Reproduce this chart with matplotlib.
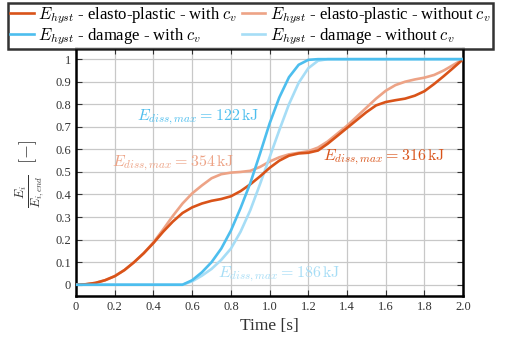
import numpy as np
import matplotlib
matplotlib.use("Agg")
import matplotlib.pyplot as plt

plt.rcParams['font.family'] = ['Liberation Serif', 'DejaVu Serif']
plt.rcParams['mathtext.fontset'] = 'cm'

# normierte Energieverläufe über der Zeit
t = np.round(np.arange(0, 2.0001, 0.05), 2)

ep_with_cv = [0, 0.002, 0.008, 0.02, 0.038, 0.065, 0.1, 0.14, 0.185, 0.235,
              0.28, 0.318, 0.343, 0.36, 0.372, 0.38, 0.392, 0.415, 0.445, 0.48,
              0.518, 0.55, 0.572, 0.582, 0.585, 0.595, 0.625, 0.66, 0.695, 0.73,
              0.765, 0.795, 0.81, 0.818, 0.825, 0.838, 0.858, 0.89, 0.925, 0.962,
              1.0]
ep_without_cv = [0, 0.002, 0.008, 0.02, 0.038, 0.065, 0.1, 0.14, 0.188, 0.245,
                 0.305, 0.36, 0.405, 0.44, 0.472, 0.49, 0.497, 0.5, 0.505, 0.522,
                 0.546, 0.565, 0.578, 0.585, 0.592, 0.608, 0.635, 0.67, 0.705, 0.745,
                 0.785, 0.825, 0.86, 0.885, 0.9, 0.91, 0.918, 0.93, 0.95, 0.975,
                 1.0]
dmg_with_cv = [0, 0, 0, 0, 0, 0, 0, 0, 0, 0,
               0, 0, 0.02, 0.055, 0.1, 0.16, 0.24, 0.34, 0.45, 0.58,
               0.715, 0.83, 0.92, 0.975, 0.997, 1.0, 1.0, 1.0, 1.0, 1.0,
               1.0, 1.0, 1.0, 1.0, 1.0, 1.0, 1.0, 1.0, 1.0, 1.0,
               1.0]
dmg_without_cv = [0, 0, 0, 0, 0, 0, 0, 0, 0, 0,
                  0, 0, 0.015, 0.04, 0.07, 0.11, 0.16, 0.235, 0.33, 0.445,
                  0.565, 0.685, 0.8, 0.895, 0.96, 0.993, 1.0, 1.0, 1.0, 1.0,
                  1.0, 1.0, 1.0, 1.0, 1.0, 1.0, 1.0, 1.0, 1.0, 1.0,
                  1.0]

c_ep = '#D95319'
c_ep_light = '#EDA386'
c_dmg = '#4DBEEE'
c_dmg_light = '#A6DDF6'
grau = '#333333'

fig = plt.figure(figsize=(5.21, 3.42), dpi=100)
ax = fig.add_axes([0.146, 0.1345, 0.743, 0.7255])

lw = 1.9
ax.plot(t, ep_with_cv, color=c_ep, lw=lw, zorder=4,
        label=r'$E_{hyst}$ - elasto-plastic - with $c_v$')
ax.plot(t, dmg_with_cv, color=c_dmg, lw=lw, zorder=4,
        label=r'$E_{hyst}$ - damage - with $c_v$')
ax.plot(t, ep_without_cv, color=c_ep_light, lw=lw, zorder=3,
        label=r'$E_{hyst}$ - elasto-plastic - without $c_v$')
ax.plot(t, dmg_without_cv, color=c_dmg_light, lw=lw, zorder=3,
        label=r'$E_{hyst}$ - damage - without $c_v$')

# maximale dissipierte Energie je Berechnung
fs_txt = 11.5
ax.text(0.315, 0.743, r'$E_{diss,max}=122\,\mathrm{kJ}$', color=c_dmg, fontsize=fs_txt, va='center')
ax.text(0.186, 0.54, r'$E_{diss,max}=354\,\mathrm{kJ}$', color=c_ep_light, fontsize=fs_txt, va='center')
ax.text(1.276, 0.566, r'$E_{diss,max}=316\,\mathrm{kJ}$', color=c_ep, fontsize=fs_txt, va='center')
ax.text(0.734, 0.044, r'$E_{diss,max}=186\,\mathrm{kJ}$', color=c_dmg_light, fontsize=fs_txt, va='center')

ax.set_xlim(0, 2)
ax.set_ylim(-0.05, 1.05)
xt = np.round(np.arange(0, 2.01, 0.2), 1)
yt = np.round(np.arange(0, 1.01, 0.1), 1)
ax.set_xticks(xt)
ax.set_xticklabels(['0'] + [f'{v:.1f}' for v in xt[1:]])
ax.set_yticks(yt)
ax.set_yticklabels(['0'] + [f'{v:.1f}' for v in yt[1:-1]] + ['1'])
ax.tick_params(direction='in', top=True, right=True, length=4, width=0.8,
               labelsize=9, labelcolor=grau, color=grau)
ax.grid(True, color='#c8c8c8', lw=0.9)
for s in ax.spines.values():
    s.set_linewidth(1.8)
    s.set_color('black')

ax.set_xlabel('Time [s]', fontsize=12.5, color=grau, labelpad=4)
ax.set_ylabel(r'$\frac{E_i}{E_{i,end}}\ \ [-]$', fontsize=13, color=grau)
ax.yaxis.set_label_coords(-0.075, 0.49)

leg = fig.legend(loc='upper left', bbox_to_anchor=(0.015, 0.992), ncol=2,
                 fontsize=12, frameon=True, fancybox=False, edgecolor='black',
                 handlelength=1.4, handletextpad=0.25, columnspacing=0.3,
                 labelspacing=0.0, borderpad=0.15, borderaxespad=0)
leg.get_frame().set_linewidth(1.8)

fig.savefig('out.png', dpi=100)
